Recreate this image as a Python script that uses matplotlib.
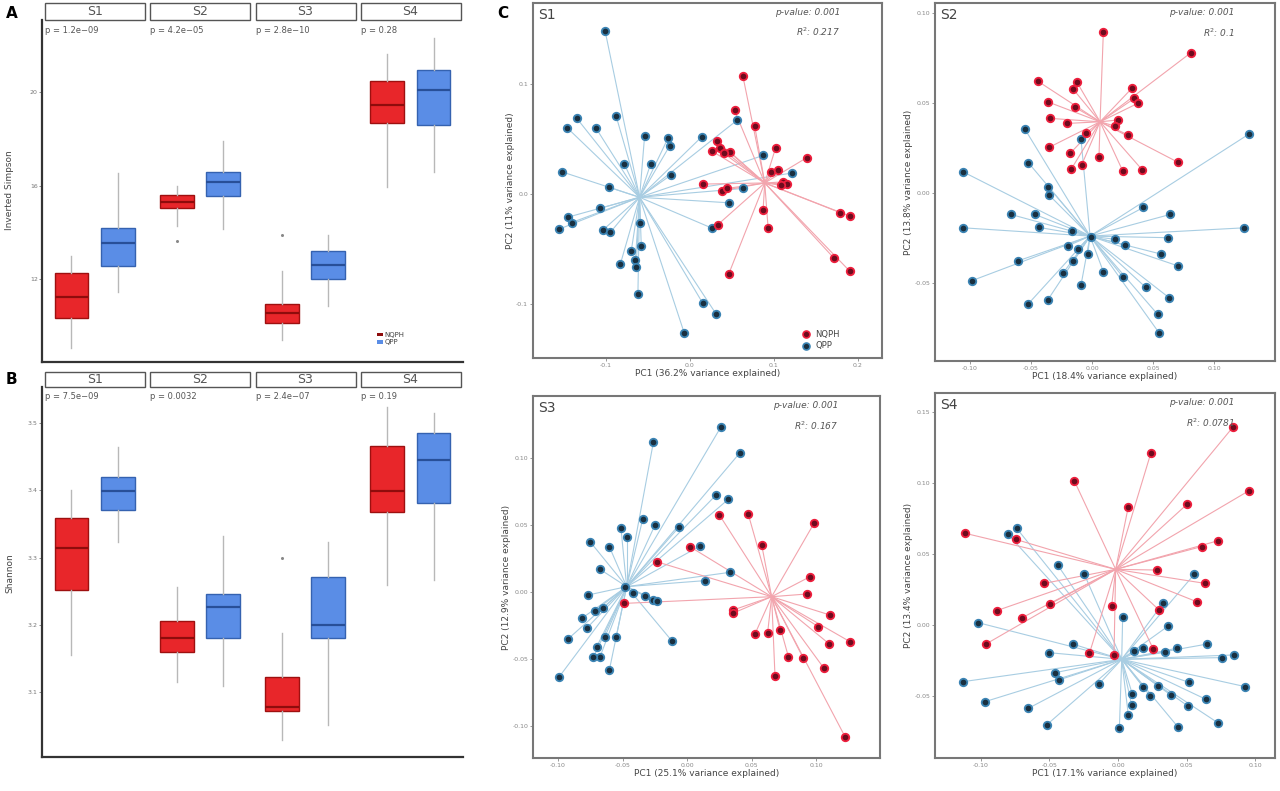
import matplotlib
matplotlib.use("Agg")
import matplotlib.pyplot as plt
from matplotlib.patches import Rectangle, Patch
from matplotlib.lines import Line2D
import matplotlib.transforms as mtransforms

# ---------------- data: boxplots ----------------
sites = ["S1", "S2", "S3", "S4"]
groups = ["NQPH", "QPP"]

simpson_p = ["p = 1.2e\u221209", "p = 4.2e\u221205", "p = 2.8e\u221210", "p = 0.28"]
simpson_nqph_med = [11.23, 15.29, 10.55, 19.44]
simpson_nqph_q1 = [10.33, 15.03, 10.12, 18.70]
simpson_nqph_q3 = [12.26, 15.59, 10.93, 20.50]
simpson_nqph_lo = [9.05, 14.26, 9.39, 15.93]
simpson_nqph_hi = [12.98, 16.00, 12.34, 21.66]
simpson_nqph_out = [[], [13.62], [13.90], []]
simpson_qpp_med = [13.54, 16.15, 12.60, 20.10]
simpson_qpp_q1 = [12.56, 15.55, 12.00, 18.62]
simpson_qpp_q3 = [14.18, 16.57, 13.20, 20.97]
simpson_qpp_lo = [11.44, 14.14, 10.85, 16.57]
simpson_qpp_hi = [16.53, 17.90, 13.88, 22.34]
simpson_qpp_out = [[], [], [], []]

shannon_p = ["p = 7.5e\u221209", "p = 0.0032", "p = 2.4e\u221207", "p = 0.19"]
shannon_nqph_med = [3.314, 3.180, 3.078, 3.399]
shannon_nqph_q1 = [3.252, 3.159, 3.072, 3.368]
shannon_nqph_q3 = [3.359, 3.206, 3.122, 3.466]
shannon_nqph_lo = [3.155, 3.115, 3.029, 3.259]
shannon_nqph_hi = [3.400, 3.256, 3.188, 3.524]
shannon_nqph_out = [[], [], [3.30], []]
shannon_qpp_med = [3.399, 3.226, 3.200, 3.445]
shannon_qpp_q1 = [3.371, 3.180, 3.180, 3.381]
shannon_qpp_q3 = [3.420, 3.246, 3.271, 3.485]
shannon_qpp_lo = [3.323, 3.109, 3.050, 3.267]
shannon_qpp_hi = [3.464, 3.332, 3.323, 3.515]
shannon_qpp_out = [[], [], [], []]

# ---------------- data: PCoA ----------------
s1_nqph_x = [0.063, 0.053, 0.077, 0.032, 0.026, 0.036, 0.048, 0.040, 0.102, 0.139, 0.097, 0.105, 0.111,
             0.115, 0.108, 0.015, 0.038, 0.044, 0.087, 0.093, 0.033, 0.046, 0.179, 0.190, 0.171, 0.190]
s1_nqph_y = [0.107, 0.076, 0.062, 0.048, 0.039, 0.042, 0.038, 0.037, 0.042, 0.033, 0.020, 0.022, 0.011,
             0.009, 0.008, 0.009, 0.003, 0.005, -0.015, -0.031, -0.028, -0.073, -0.017, -0.020, -0.058, -0.070]
s1_qpp_x = [-0.101, -0.135, -0.146, -0.112, -0.088, -0.054, -0.026, -0.024, 0.014, -0.152, -0.078, -0.047,
            -0.023, -0.096, -0.107, -0.145, -0.141, -0.156, -0.104, -0.095, -0.059, -0.058, -0.070, -0.083,
            -0.065, -0.064, -0.062, 0.015, 0.031, -0.007, 0.026, 0.046, 0.063, 0.087, 0.121, 0.056]
s1_qpp_y = [0.148, 0.069, 0.060, 0.060, 0.071, 0.053, 0.051, 0.044, 0.052, 0.020, 0.027, 0.027,
            0.017, 0.006, -0.013, -0.021, -0.026, -0.032, -0.033, -0.035, -0.026, -0.047, -0.052, -0.064,
            -0.060, -0.066, -0.091, -0.099, -0.109, -0.126, -0.031, -0.008, 0.005, 0.035, 0.019, 0.067]
s1_centroids = [(0.089, 0.010), (-0.060, -0.003)]

s2_nqph_x = [0.0093, 0.0811, -0.0445, -0.0126, -0.0153, 0.0325, 0.0347, 0.0374, -0.0363, -0.0139, -0.0344,
             -0.0202, 0.0210, 0.0189, -0.0052, 0.0298, -0.0352, -0.0180, -0.0172, -0.0085, 0.0057, 0.0251,
             0.0413, 0.0708]
s2_nqph_y = [0.0896, 0.0780, 0.0622, 0.0619, 0.0576, 0.0581, 0.0526, 0.0498, 0.0507, 0.0476, 0.0415,
             0.0387, 0.0406, 0.0372, 0.0331, 0.0322, 0.0254, 0.0220, 0.0131, 0.0156, 0.0198, 0.0124,
             0.0128, 0.0170]
s2_qpp_x = [-0.0549, -0.0522, -0.0358, -0.0352, -0.1060, -0.1055, -0.0664, -0.0467, -0.0434, -0.0986,
            -0.0604, -0.0527, -0.0363, -0.0235, -0.0153, -0.0167, -0.0199, -0.0117, -0.0036, -0.0090,
            -0.0008, 0.0093, 0.0189, 0.0270, 0.0257, 0.0421, 0.0639, 0.0626, 0.0566, 0.0702, 0.0440,
            0.0631, 0.0538, 0.0549, 0.1249, 0.1287, -0.0090]
s2_qpp_y = [0.0354, 0.0169, 0.0035, -0.0011, 0.0119, -0.0193, -0.0119, -0.0119, -0.0191, -0.0487,
            -0.0376, -0.0619, -0.0594, -0.0443, -0.0378, -0.0209, -0.0294, -0.0313, -0.0341, -0.0511,
            -0.0246, -0.0437, -0.0257, -0.0289, -0.0469, -0.0080, -0.0119, -0.0248, -0.0339, -0.0404,
            -0.0524, -0.0581, -0.0674, -0.0776, -0.0193, 0.0328, 0.0298]
s2_centroids = [(0.0066, 0.0396), (-0.0016, -0.0239)]

s3_nqph_x = [0.0251, 0.0475, 0.0984, 0.0579, 0.0023, -0.0235, -0.0486, 0.0359, 0.0354, 0.0953, 0.0928,
             0.1109, 0.1018, 0.0527, 0.0625, 0.0721, 0.1103, 0.1264, 0.0786, 0.0902, 0.1062, 0.0682, 0.1225]
s3_nqph_y = [0.0575, 0.0580, 0.0512, 0.0351, 0.0338, 0.0226, -0.0085, -0.0134, -0.0159, 0.0114, -0.0015,
             -0.0172, -0.0259, -0.0313, -0.0303, -0.0284, -0.0388, -0.0371, -0.0483, -0.0495, -0.0570,
             -0.0627, -0.1080]
s3_qpp_x = [0.0264, 0.0411, -0.0261, -0.0344, -0.0248, -0.0059, -0.0512, -0.0468, -0.0752, -0.0602,
            -0.0674, 0.0101, 0.0333, 0.0140, 0.0225, 0.0320, -0.0765, -0.0481, -0.0416, -0.0326, -0.0261,
            -0.0235, -0.0713, -0.0654, -0.0817, -0.0778, -0.0925, -0.0636, -0.0550, -0.0700, -0.0674,
            -0.0726, -0.0602, -0.0990, -0.0119]
s3_qpp_y = [0.1234, 0.1040, 0.1117, 0.0542, 0.0500, 0.0488, 0.0475, 0.0413, 0.0376, 0.0338, 0.0169,
            0.0343, 0.0147, 0.0085, 0.0724, 0.0692, -0.0022, 0.0040, -0.0010, -0.0030, -0.0060, -0.0065,
            -0.0139, -0.0122, -0.0197, -0.0271, -0.0353, -0.0333, -0.0338, -0.0408, -0.0483, -0.0488,
            -0.0582, -0.0632, -0.0363]
s3_centroids = [(0.0656, -0.0035), (-0.0468, 0.0040)]

s4_nqph_x = [0.0839, 0.0240, -0.0318, 0.0953, 0.0075, 0.0504, -0.1113, -0.0744, 0.0608, 0.0730, 0.0281,
             -0.0536, 0.0633, -0.0495, -0.0046, 0.0572, 0.0298, -0.0882, -0.0696, -0.0960, -0.0208,
             -0.0029, 0.0257]
s4_nqph_y = [0.1397, 0.1214, 0.1016, 0.0946, 0.0833, 0.0852, 0.0646, 0.0603, 0.0552, 0.0594, 0.0387,
             0.0293, 0.0293, 0.0148, 0.0134, 0.0164, 0.0106, 0.0101, 0.0052, -0.0134, -0.0200, -0.0211,
             -0.0171]
s4_qpp_x = [-0.0737, -0.0802, -0.0439, -0.0245, 0.0555, -0.1016, 0.0330, 0.0034, 0.0366, -0.0330, -0.0502,
            0.0119, 0.0184, 0.0342, 0.0427, 0.0650, 0.0754, 0.0846, -0.0458, -0.0429, -0.1125, -0.0138,
            0.0184, 0.0233, 0.0293, 0.0383, 0.0516, 0.0638, 0.0924, -0.0967, -0.0652, 0.0104, 0.0099,
            0.0075, 0.0010, -0.0519, 0.0434, 0.0507, 0.0725]
s4_qpp_y = [0.0681, 0.0641, 0.0423, 0.0357, 0.0357, 0.0016, 0.0157, 0.0059, -0.0007, -0.0134, -0.0195,
            -0.0181, -0.0164, -0.0192, -0.0164, -0.0134, -0.0230, -0.0211, -0.0336, -0.0387, -0.0399,
            -0.0415, -0.0434, -0.0500, -0.0430, -0.0493, -0.0404, -0.0523, -0.0434, -0.0540, -0.0587,
            -0.0486, -0.0563, -0.0634, -0.0728, -0.0704, -0.0716, -0.0570, -0.0688]
s4_centroids = [(-0.0017, 0.0392), (0.0027, -0.0242)]

pcoa_pc1 = ["PC1 (36.2% variance explained)", "PC1 (18.4% variance explained)",
            "PC1 (25.1% variance explained)", "PC1 (17.1% variance explained)"]
pcoa_pc2 = ["PC2 (11% variance explained)", "PC2 (13.8% variance explained)",
            "PC2 (12.9% variance explained)", "PC2 (13.4% variance explained)"]
pcoa_r2 = ["0.217", "0.1", "0.167", "0.0781"]
pcoa_pval = ["0.001", "0.001", "0.001", "0.001"]

# ---------------- styling ----------------
RED, RED_EDGE, RED_MED = "#e8262a", "#9e1010", "#8e0c0c"
BLUE, BLUE_EDGE, BLUE_MED = "#5a8de6", "#3562b0", "#284f98"
WHISK = "#b8b8b8"
TXT = "#444444"

plt.rcParams["font.family"] = ["DejaVu Sans"]
W, H = 1280, 791
fig = plt.figure(figsize=(W / 100, H / 100), dpi=100)


def ax_px(x0, y0, x1, y1):
    return fig.add_axes([x0 / W, 1 - y1 / H, (x1 - x0) / W, (y1 - y0) / H])


def box_panel(ax, vals_n, vals_q, pvals, ylim, yticks, ytl, strip_h, ptxt_y):
    for grp, vals, pos_off, fc, ec, mc in (("NQPH", vals_n, 0.28, RED, RED_EDGE, RED_MED),
                                           ("QPP", vals_q, 0.72, BLUE, BLUE_EDGE, BLUE_MED)):
        med, q1, q3, lo, hi, out = vals
        stats = [dict(med=med[i], q1=q1[i], q3=q3[i], whislo=lo[i], whishi=hi[i], fliers=out[i])
                 for i in range(len(sites))]
        ax.bxp(stats, positions=[i + pos_off for i in range(len(sites))], widths=0.32,
               patch_artist=True, showfliers=True,
               boxprops=dict(facecolor=fc, edgecolor=ec, linewidth=1.0),
               medianprops=dict(color=mc, linewidth=1.6),
               whiskerprops=dict(color=WHISK, linewidth=1.0),
               capprops=dict(linewidth=0),
               flierprops=dict(marker="o", markersize=2.2, markerfacecolor="#888888",
                               markeredgecolor="none"),
               manage_ticks=False, zorder=3)
    ax.set_xlim(0, 4)
    ax.set_ylim(*ylim)
    ax.set_xticks([])
    ax.set_yticks(yticks)
    ax.set_yticklabels(ytl, fontsize=4.5, color="#777777")
    ax.tick_params(axis="y", length=2, width=0.6, color="#777777", pad=1)
    for s in ("top", "right"):
        ax.spines[s].set_visible(False)
    ax.spines["left"].set_linewidth(1.6)
    ax.spines["left"].set_color("#333333")
    ax.spines["bottom"].set_linewidth(1.6)
    ax.spines["bottom"].set_color("#333333")
    trans = mtransforms.blended_transform_factory(ax.transData, ax.transAxes)
    for i, s in enumerate(sites):
        ax.add_patch(Rectangle((i + 0.03, 1.0), 0.95, strip_h, transform=trans, clip_on=False,
                               facecolor="white", edgecolor="#555555", linewidth=1.0))
        ax.text(i + 0.5, 1.0 + strip_h / 2, s, transform=trans, ha="center", va="center",
                fontsize=9, color="#555555")
        ax.text(i + 0.03, ptxt_y, pvals[i], transform=trans, ha="left", va="center",
                fontsize=6, color="#555555")


# Panel A
axA = ax_px(42, 20, 463, 362)
box_panel(axA,
          (simpson_nqph_med, simpson_nqph_q1, simpson_nqph_q3, simpson_nqph_lo, simpson_nqph_hi, simpson_nqph_out),
          (simpson_qpp_med, simpson_qpp_q1, simpson_qpp_q3, simpson_qpp_lo, simpson_qpp_hi, simpson_qpp_out),
          simpson_p, (8.45, 23.1), [12, 16, 20], ["12", "16", "20"], 17 / 342, 0.968)
legA = axA.legend(handles=[Patch(facecolor=RED_MED, edgecolor="none"),
                           Patch(facecolor=BLUE, edgecolor="none")],
                  labels=groups, loc="lower left", bbox_to_anchor=(0.78, 0.03), frameon=False,
                  fontsize=5, handlelength=0.9, handleheight=0.4, handletextpad=0.2, labelspacing=0.2)
for t in legA.get_texts():
    t.set_color(TXT)
fig.text(10 / W, 1 - 190 / H, "Inverted Simpson", rotation=90, ha="center", va="center",
         fontsize=6.5, color=TXT)

# Panel B
axB = ax_px(42, 387, 463, 757)
box_panel(axB,
          (shannon_nqph_med, shannon_nqph_q1, shannon_nqph_q3, shannon_nqph_lo, shannon_nqph_hi, shannon_nqph_out),
          (shannon_qpp_med, shannon_qpp_q1, shannon_qpp_q3, shannon_qpp_lo, shannon_qpp_hi, shannon_qpp_out),
          shannon_p, (3.003, 3.554), [3.1, 3.2, 3.3, 3.4, 3.5], ["3.1", "3.2", "3.3", "3.4", "3.5"],
          15 / 370, 0.973)
fig.text(10 / W, 1 - 573 / H, "Shannon", rotation=90, ha="center", va="center", fontsize=6.5, color=TXT)

# Panel letters
fig.text(6 / W, 1 - 13 / H, "A", fontsize=11, fontweight="bold", ha="left", va="center")
fig.text(6 / W, 1 - 379 / H, "B", fontsize=11, fontweight="bold", ha="left", va="center")
fig.text(497 / W, 1 - 13 / H, "C", fontsize=11, fontweight="bold", ha="left", va="center")

# ---------------- PCoA panels ----------------
PT_RED_FC, PT_RED_EC = "#6e0b1e", "#ee1f3d"
PT_BLUE_FC, PT_BLUE_EC = "#1a3040", "#3b84b4"
LINE_RED, LINE_BLUE = "#f2a4ad", "#a8cde2"

pcoa_specs = [
    ("S1", (533, 3, 882, 358), (-0.1869, 0.2286), (-0.1491, 0.1736), [-0.1, 0.0, 0.1, 0.2],
     ["-0.1", "0.0", "0.1", "0.2"], [-0.1, 0.0, 0.1], ["-0.1", "0.0", "0.1"],
     s1_nqph_x, s1_nqph_y, s1_qpp_x, s1_qpp_y, s1_centroids),
    ("S2", (935, 3, 1275, 361), (-0.1287, 0.1500), (-0.0933, 0.1056), [-0.10, -0.05, 0.0, 0.05, 0.10],
     ["-0.10", "-0.05", "0.00", "0.05", "0.10"], [-0.05, 0.0, 0.05, 0.10], ["-0.05", "0.00", "0.05", "0.10"],
     s2_nqph_x, s2_nqph_y, s2_qpp_x, s2_qpp_y, s2_centroids),
    ("S3", (533, 396, 880, 758), (-0.1194, 0.1496), (-0.1239, 0.1463), [-0.10, -0.05, 0.0, 0.05, 0.10],
     ["-0.10", "-0.05", "0.00", "0.05", "0.10"], [-0.10, -0.05, 0.0, 0.05, 0.10],
     ["-0.10", "-0.05", "0.00", "0.05", "0.10"],
     s3_nqph_x, s3_nqph_y, s3_qpp_x, s3_qpp_y, s3_centroids),
    ("S4", (935, 393, 1275, 758), (-0.1331, 0.1142), (-0.0937, 0.1634), [-0.10, -0.05, 0.0, 0.05, 0.10],
     ["-0.10", "-0.05", "0.00", "0.05", "0.10"], [-0.05, 0.0, 0.05, 0.10, 0.15],
     ["-0.05", "0.00", "0.05", "0.10", "0.15"],
     s4_nqph_x, s4_nqph_y, s4_qpp_x, s4_qpp_y, s4_centroids),
]

for k, (name, box, xl, yl, xt, xtl, yt, ytl, nx, ny, qx, qy, cents) in enumerate(pcoa_specs):
    ax = ax_px(*box)
    ax.set_xlim(*xl)
    ax.set_ylim(*yl)
    (cnx, cny), (cqx, cqy) = cents
    for x, y in zip(qx, qy):
        ax.plot([cqx, x], [cqy, y], color=LINE_BLUE, linewidth=0.8, zorder=1)
    for x, y in zip(nx, ny):
        ax.plot([cnx, x], [cny, y], color=LINE_RED, linewidth=0.8, zorder=1)
    ax.plot(qx, qy, "o", markersize=5.4, markerfacecolor=PT_BLUE_FC, markeredgecolor=PT_BLUE_EC,
            markeredgewidth=1.3, linestyle="none", zorder=3, label="QPP")
    ax.plot(nx, ny, "o", markersize=5.4, markerfacecolor=PT_RED_FC, markeredgecolor=PT_RED_EC,
            markeredgewidth=1.3, linestyle="none", zorder=3, label="NQPH")
    ax.set_xticks(xt)
    ax.set_xticklabels(xtl, fontsize=4.5, color="#888888")
    ax.set_yticks(yt)
    ax.set_yticklabels(ytl, fontsize=4.5, color="#888888")
    ax.tick_params(length=2, width=0.6, color="#888888", pad=1.5)
    for s in ax.spines.values():
        s.set_color("#777777")
        s.set_linewidth(1.5)
    ax.set_xlabel(pcoa_pc1[k], fontsize=6.5, color=TXT, labelpad=1)
    ax.set_ylabel(pcoa_pc2[k], fontsize=6.5, color=TXT, labelpad=1)
    ax.text(0.015, 0.985, name, transform=ax.transAxes, ha="left", va="top", fontsize=10, color="#444444")
    ax.text(0.88, 0.985, "p-value: " + pcoa_pval[k], transform=ax.transAxes, ha="right", va="top",
            fontsize=6.5, style="italic", color="#555555")
    ax.text(0.88, 0.935, "R$^{2}$: " + pcoa_r2[k], transform=ax.transAxes, ha="right", va="top",
            fontsize=6.5, style="italic", color="#555555")
    if k == 0:
        h = [Line2D([], [], marker="o", linestyle="none", markersize=5, markerfacecolor=PT_RED_FC,
                    markeredgecolor=PT_RED_EC, markeredgewidth=1.2),
             Line2D([], [], marker="o", linestyle="none", markersize=5, markerfacecolor=PT_BLUE_FC,
                    markeredgecolor=PT_BLUE_EC, markeredgewidth=1.2)]
        lg = ax.legend(h, groups, loc="lower right", frameon=False, fontsize=6, handletextpad=0.1,
                       labelspacing=0.25, borderaxespad=0.5, bbox_to_anchor=(0.90, 0.0))
        for t in lg.get_texts():
            t.set_color(TXT)

fig.savefig("out.png", dpi=100)
